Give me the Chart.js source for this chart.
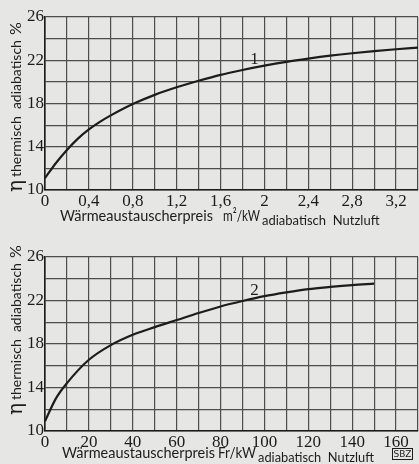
<!DOCTYPE html>
<html>
<head>
<meta charset="utf-8">
<script src="https://cdn.jsdelivr.net/npm/chart.js@4.4.1/dist/chart.umd.min.js"></script>
<style>
  html, body { margin: 0; padding: 0; background: #e6e6e4; }
  #wrap { position: relative; width: 419px; height: 464px; overflow: hidden; }
  canvas { position: absolute; left: 0; }
  #c1 { top: 0; }
  #c2 { top: 232px; }
</style>
</head>
<body>
<div id="wrap">
  <canvas id="c1" width="419" height="232"></canvas>
  <canvas id="c2" width="419" height="232"></canvas>
</div>
<script>
const INK = '#1c1c1c';
const GRID = '#4d4d4d';

// Kurve 1: Preis in m²/kW
const preisFlaeche = [0, 0.1, 0.2, 0.3, 0.4, 0.5, 0.6, 0.8, 1.0, 1.2, 1.4, 1.6, 1.8, 2.0, 2.2, 2.4, 2.6, 2.8, 3.0, 3.2, 3.4];
const etaFlaeche = [11.1, 12.5, 13.7, 14.75, 15.6, 16.3, 16.9, 17.95, 18.8, 19.5, 20.1, 20.65, 21.1, 21.5, 21.85, 22.15, 22.42, 22.65, 22.85, 23.02, 23.17];

// Kurve 2: Preis in Fr/kW
const preisFranken = [0, 5, 10, 20, 30, 40, 50, 60, 70, 80, 90, 100, 110, 120, 130, 140, 150];
const etaFranken = [10.9, 13.0, 14.4, 16.55, 17.9, 18.85, 19.55, 20.2, 20.85, 21.45, 21.95, 22.4, 22.75, 23.05, 23.25, 23.42, 23.55];

const xLabelsFlaeche = [0, 0.4, 0.8, 1.2, 1.6, 2.0, 2.4, 2.8, 3.2];
const xLabelsFranken = [0, 20, 40, 60, 80, 100, 120, 140, 160];
const yLabels = [10, 14, 18, 22, 26];

function hasLabel(list, v) {
    return list.some((l) => Math.abs(l - v) < 1e-6);
}

function fmt(v) {
    return String(Math.round(v * 10) / 10).replace('.', ',');
}

const textPlugin = {
    id: 'sbzTexts',
    afterDraw(chart, args, opts) {
        const ctx = chart.ctx;
        const xs = chart.scales.x;
        const ys = chart.scales.y;
        ctx.save();
        ctx.fillStyle = INK;
        ctx.textBaseline = 'alphabetic';
        ctx.textAlign = 'left';

        // x axis title with subscript
        ctx.font = '16px Lato';
        ctx.fillText('Wärmeaustauscherpreis', opts.titleX, opts.titleY, 153);
        ctx.fillText(opts.unit, opts.unitX, opts.titleY, opts.unitW);
        ctx.font = '13px Lato';
        ctx.fillText('adiabatisch  Nutzluft', opts.unitX + opts.unitW + 2, opts.titleY + 4, opts.subW);

        // y axis title, rotated
        ctx.save();
        ctx.translate(22, opts.yTitleStart);
        ctx.rotate(-Math.PI / 2);
        ctx.font = '20px "DejaVu Serif"';
        ctx.fillText('η', 0, 0);
        let off = ctx.measureText('η').width + 3;
        ctx.font = '14px Lato';
        ctx.fillText('thermisch  adiabatisch', off, -1);
        off += ctx.measureText('thermisch  adiabatisch').width + 5;
        ctx.font = '16px Lato';
        ctx.fillText('%', off, -1);
        ctx.restore();

        // curve number
        ctx.font = '17px "Liberation Serif"';
        ctx.textAlign = 'center';
        ctx.textBaseline = 'middle';
        ctx.fillText(opts.curve, xs.getPixelForValue(opts.curveAt[0]), ys.getPixelForValue(opts.curveAt[1]));

        if (opts.stamp) {
            ctx.font = '9px "DejaVu Sans"';
            ctx.textAlign = 'center';
            ctx.strokeStyle = INK;
            ctx.lineWidth = 1;
            ctx.strokeRect(392.5, 216.5, 20, 11);
            ctx.fillText('SBZ', 402.5, 222.5);
        }
        ctx.restore();
    },
};

function makeChart(id, xs, ys, xMax, step, xLabels, xHeight, topPad, texts) {
    return new Chart(document.getElementById(id), {
        type: 'line',
        data: {
            datasets: [{
                data: xs.map((x, i) => ({ x, y: ys[i] })),
                borderColor: INK,
                borderWidth: 2.2,
                pointRadius: 0,
                cubicInterpolationMode: 'monotone',
                fill: false,
            }],
        },
        options: {
            responsive: false,
            animation: false,
            devicePixelRatio: 1,
            layout: { padding: { top: topPad, left: 0, right: 0, bottom: 0 } },
            plugins: { legend: { display: false }, tooltip: { enabled: false }, sbzTexts: texts },
            scales: {
                x: {
                    type: 'linear',
                    min: 0,
                    max: xMax,
                    afterFit: (s) => { s.height = xHeight; },
                    grid: { color: GRID, lineWidth: 1.2, drawTicks: false },
                    border: { color: INK, width: 1.6 },
                    ticks: {
                        stepSize: step,
                        autoSkip: false,
                        maxRotation: 0,
                        padding: 1,
                        color: INK,
                        font: { family: '"Liberation Serif"', size: 17 },
                        callback: (v) => (hasLabel(xLabels, v) ? fmt(v) : ''),
                    },
                },
                y: {
                    min: 10,
                    max: 26,
                    afterFit: (s) => { s.width = 45; },
                    grid: { color: GRID, lineWidth: 1.2, drawTicks: false },
                    border: { color: INK, width: 1.6 },
                    ticks: {
                        stepSize: 2,
                        autoSkip: false,
                        padding: 1,
                        color: INK,
                        font: { family: '"Liberation Serif"', size: 17 },
                        callback: (v) => (hasLabel(yLabels, v) ? String(v) : ''),
                    },
                },
            },
        },
        plugins: [textPlugin],
    });
}

makeChart('c1', preisFlaeche, etaFlaeche, 3.4, 0.2, xLabelsFlaeche, 42, 17, {
    titleX: 60, titleY: 221, unit: 'm²/kW', unitX: 223, unitW: 37, subW: 123, yTitleStart: 192,
    curve: '1', curveAt: [1.91, 22.1], stamp: false,
});
makeChart('c2', preisFranken, etaFranken, 170, 10, xLabelsFranken, 33, 25, {
    titleX: 62, titleY: 226, unit: 'Fr/kW', unitX: 218, unitW: 38, subW: 116, yTitleStart: 183,
    curve: '2', curveAt: [95.5, 22.95], stamp: true,
});
</script>
</body>
</html>
